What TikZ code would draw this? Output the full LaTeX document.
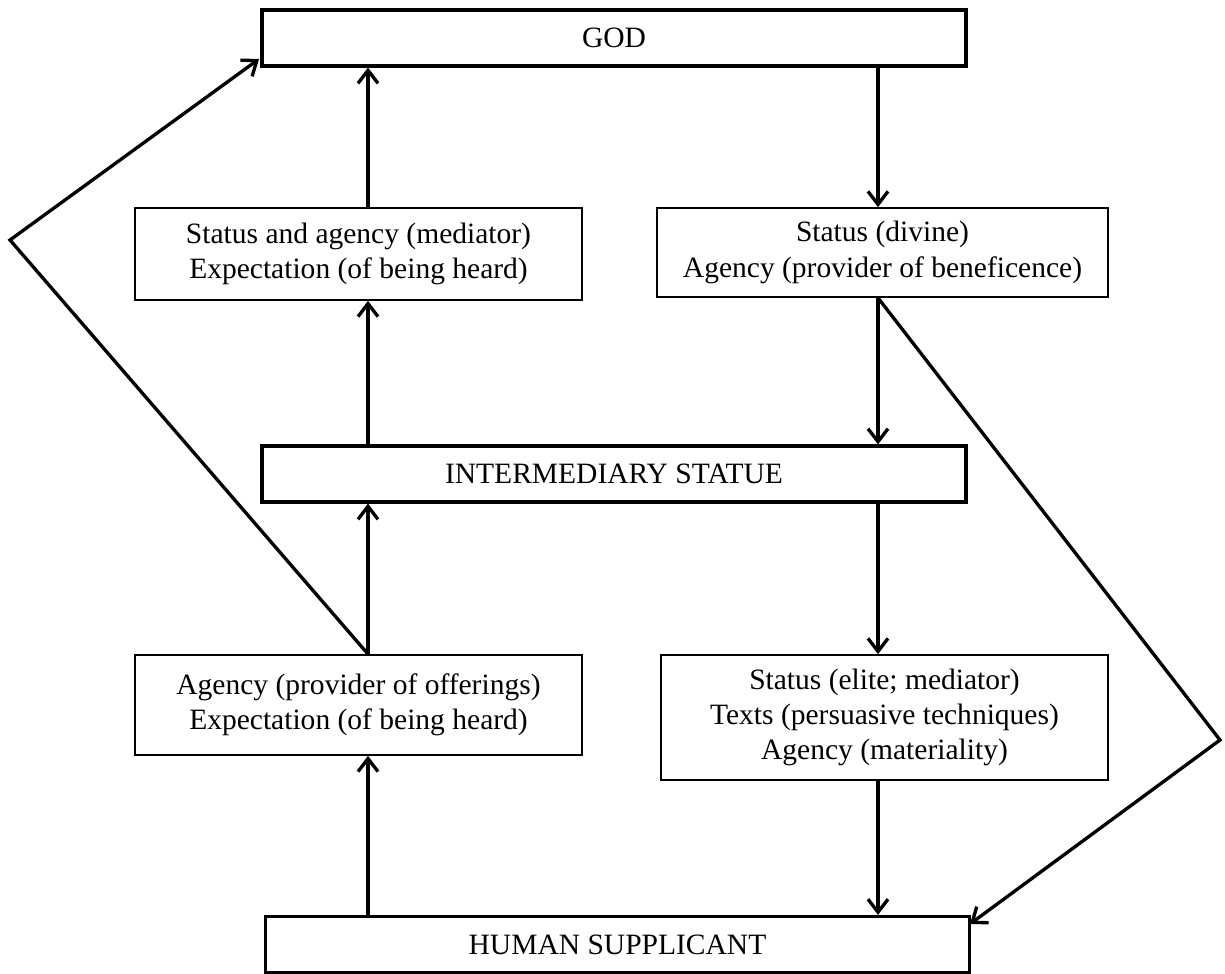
\documentclass[tikz,border=0pt]{standalone}
\usepackage{fontspec}
\setmainfont{Liberation Serif}
\usetikzlibrary{arrows.meta,positioning,calc}

\begin{document}
\begin{tikzpicture}[
  x=0.02cm, y=-0.02cm,
  font=\fontsize{16.8}{20}\selectfont,
  box/.style={draw, align=center, inner sep=0pt, line width=1pt},
  bigbox/.style={box, line width=1.8pt, minimum width=14.08cm, minimum height=1.12cm},
  arr/.style={-{Straight Barb[length=2.6mm, width=4mm, line width=1.9pt]}, line width=1.9pt, line join=miter}
]
\useasboundingbox (0,0) rectangle (1225,974);

% main levels
\node[bigbox] (god) at (614,38) {GOD};
\node[bigbox] (statue) at (614,474) {INTERMEDIARY STATUE};
\node[bigbox] (human) at (617.5,944.5) {HUMAN SUPPLICANT};

% attributes
\node[box, minimum width=8.94cm, minimum height=1.84cm] (medL) at (358.5,254)
  {Status and agency (mediator)\\Expectation (of being heard)};
\node[box, minimum width=9.02cm, minimum height=1.78cm] (divR) at (882.5,252.5)
  {Status (divine)\\Agency (provider of beneficence)};
\node[box, minimum width=8.94cm, minimum height=2.0cm] (offL) at (358.5,705)
  {Agency (provider of offerings)\\Expectation (of being heard)};
\node[box, minimum width=8.94cm, minimum height=2.5cm] (eliteR) at (884.5,717.5)
  {Status (elite; mediator)\\Texts (persuasive techniques)\\Agency (materiality)};

% columns and bends
\coordinate (lx) at (368,0);
\coordinate (rx) at (878,0);
\coordinate (lbend) at (10,240);
\coordinate (rbend) at (1220,740);
\coordinate (godin) at (259,59);
\coordinate (humin) at (970,924);

% upward chain
\draw[arr] (human.north -| lx) -- (offL.south -| lx);
\draw[arr] (offL.north -| lx) -- (statue.south -| lx);
\draw[arr] (statue.north -| lx) -- (medL.south -| lx);
\draw[arr] (medL.north -| lx) -- (god.south -| lx);
\draw[arr] (offL.north -| lx) -- (lbend) -- (godin);

% downward chain
\draw[arr] (god.south -| rx) -- (divR.north -| rx);
\draw[arr] (divR.south -| rx) -- (statue.north -| rx);
\draw[arr] (statue.south -| rx) -- (eliteR.north -| rx);
\draw[arr] (eliteR.south -| rx) -- (human.north -| rx);
\draw[arr] (divR.south -| rx) -- (rbend) -- (humin);
\end{tikzpicture}
\end{document}
